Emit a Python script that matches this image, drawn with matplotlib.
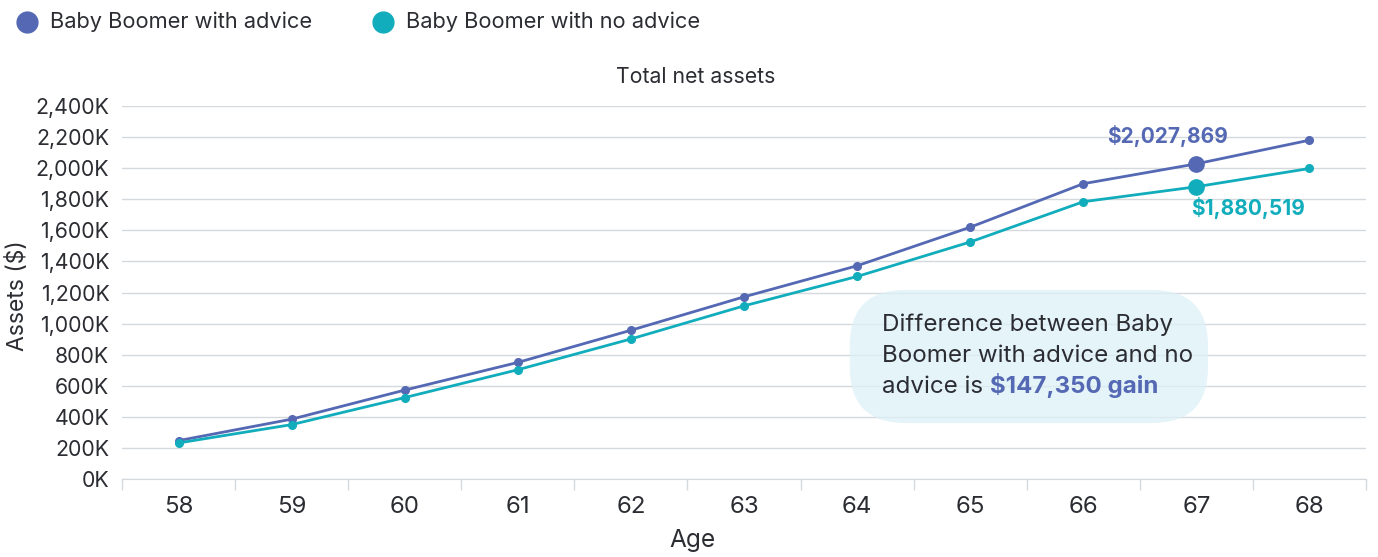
import matplotlib
matplotlib.use("Agg")
import matplotlib.pyplot as plt
from matplotlib.patches import FancyBboxPatch
from matplotlib.lines import Line2D
from matplotlib.ticker import FuncFormatter, FixedLocator

plt.rcParams['font.family'] = ['Inter', 'DejaVu Sans']

ages = [58, 59, 60, 61, 62, 63, 64, 65, 66, 67, 68]
with_advice = [247000, 385000, 572000, 750000, 957000, 1172000, 1372000,
               1620000, 1900000, 2027869, 2180000]
no_advice = [232000, 350000, 524000, 703000, 901000, 1114000, 1303000,
             1525000, 1784000, 1880519, 1998000]
highlight_idx = 9
series_names = ["Baby Boomer with advice", "Baby Boomer with no advice"]
y_ticks = list(range(0, 2400001, 200000))

C_ADV = "#5468b4"
C_NO = "#12adbc"
C_TEXT = "#2b2d33"
C_GRID = "#d5d9dc"

W, H = 1378, 557
fig = plt.figure(figsize=(W / 100, H / 100), dpi=100)
ax = fig.add_axes([0.0885, 0.140, 0.9028, 0.6697])

x = list(range(len(ages)))
for vals, col in ((with_advice, C_ADV), (no_advice, C_NO)):
    ax.plot(x, vals, color=col, lw=2.0, marker='o', ms=5.5, zorder=4)
    ax.plot([x[highlight_idx]], [vals[highlight_idx]], 'o', color=col, ms=11, zorder=5)

ax.set_xlim(-0.5, len(ages) - 0.5)
ax.set_ylim(0, 2400000)
ax.set_xticks(x)
ax.set_xticklabels([str(a) for a in ages])
ax.xaxis.set_minor_locator(FixedLocator([i - 0.5 for i in range(len(ages) + 1)]))
ax.tick_params(axis='x', which='major', length=0, pad=12.5, labelsize=17.3, labelcolor=C_TEXT)
ax.tick_params(axis='x', which='minor', length=8, color=C_GRID, width=1)
ax.set_yticks(y_ticks)
ax.yaxis.set_major_formatter(FuncFormatter(lambda v, p: f"{int(v/1000):,}K"))
ax.tick_params(axis='y', length=0, pad=9, labelsize=15.3, labelcolor=C_TEXT)
ax.grid(axis='y', color=C_GRID, lw=1, zorder=0)
for s in ('top', 'right', 'left'):
    ax.spines[s].set_visible(False)
ax.spines['bottom'].set_color(C_GRID)
ax.set_axisbelow(True)

fig.text(18 / W, 1 - 296 / H, "Assets ($)", fontsize=16.5, color=C_TEXT, rotation=90,
         ha='center', va='center')
fig.text(692 / W, 1 - 541 / H, "Age", fontsize=17.6, color=C_TEXT, ha='center', va='center')
fig.text(696 / W, 1 - 77 / H, "Total net assets", fontsize=15.3, color=C_TEXT,
         ha='center', va='center')

# value labels on the highlighted age
ax.annotate(f"${with_advice[highlight_idx]:,}", (x[highlight_idx], with_advice[highlight_idx]),
            xytext=(-21, 20), textcoords='offset points', ha='center', va='center',
            fontsize=15, fontweight='bold', color=C_ADV, zorder=6)
ax.annotate(f"${no_advice[highlight_idx]:,}", (x[highlight_idx], no_advice[highlight_idx]),
            xytext=(37.5, -15), textcoords='offset points', ha='center', va='center',
            fontsize=15, fontweight='bold', color=C_NO, zorder=6)

# difference callout
box = FancyBboxPatch((0.585, 0.150), 0.288, 0.357, transform=ax.transAxes,
                     boxstyle="round,pad=0,rounding_size=0.045", mutation_aspect=1244/373,
                     facecolor="#dcf1f6", edgecolor='none', alpha=0.75, zorder=3)
ax.add_patch(box)
diff = with_advice[highlight_idx] - no_advice[highlight_idx]
box_fs = 17.4
ax.text(0.611, 0.413, "Difference between Baby", transform=ax.transAxes,
        fontsize=box_fs, color=C_TEXT, va='center', ha='left', zorder=6)
ax.text(0.611, 0.330, "Boomer with advice and no", transform=ax.transAxes,
        fontsize=box_fs, color=C_TEXT, va='center', ha='left', zorder=6)
t = ax.text(0.611, 0.247, "advice is ", transform=ax.transAxes,
            fontsize=box_fs, color=C_TEXT, va='center', ha='left', zorder=6)
ax.annotate(f"${diff:,} gain", xy=(1, 0), xycoords=t, va='bottom', ha='left',
            fontsize=box_fs, fontweight='bold', color=C_ADV, zorder=6)

# legend row
for name, col, cx in zip(series_names, (C_ADV, C_NO), (27, 383)):
    fig.add_artist(Line2D([cx / W], [1 - 22 / H], marker='o', ls='none', color=col,
                          ms=15, transform=fig.transFigure))
    fig.text((cx + 23) / W, 1 - 22 / H, name, fontsize=15.7, color=C_TEXT,
             ha='left', va='center')

fig.savefig("out.png", dpi=100)
